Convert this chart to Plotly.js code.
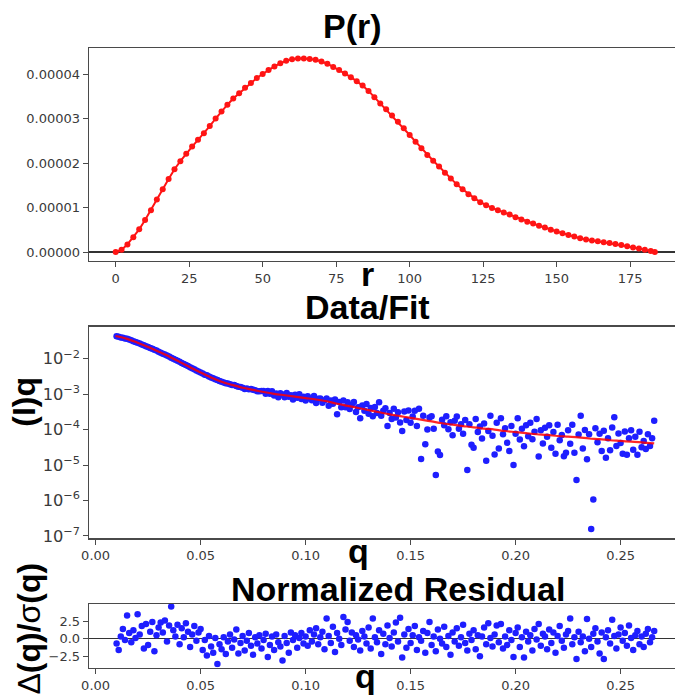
<!DOCTYPE html>
<html>
<head>
<meta charset="utf-8">
<script src="https://cdn.plot.ly/plotly-3.0.1.min.js"></script>
<style>
html,body{margin:0;padding:0;overflow:hidden;background:#fff;}
#chart{width:690px;height:700px;}
</style>
</head>
<body>
<div id="chart"></div>
<script>
// ---------- P(r) ----------
const rValues = [0,2,4,6,8,10,12,14,16,18,20,22,24,26,28,30,32,34,36,38,40,42,44,46,48,50,52,54,56,58,60,62,64,66,68,70,72,74,76,78,80,82,84,86,88,90,92,94,96,98,100,102,104,106,108,110,112,114,116,118,120,122,124,126,128,130,132,134,136,138,140,142,144,146,148,150,152,154,156,158,160,162,164,166,168,170,172,174,176,178,180,182,183.4];
const prValues = [0.00e-5,0.05e-5,0.17e-5,0.33e-5,0.51e-5,0.72e-5,0.94e-5,1.18e-5,1.41e-5,1.64e-5,1.86e-5,2.04e-5,2.21e-5,2.37e-5,2.52e-5,2.67e-5,2.83e-5,3.00e-5,3.16e-5,3.31e-5,3.45e-5,3.57e-5,3.69e-5,3.80e-5,3.91e-5,4.00e-5,4.09e-5,4.17e-5,4.24e-5,4.30e-5,4.33e-5,4.35e-5,4.35e-5,4.34e-5,4.32e-5,4.28e-5,4.23e-5,4.16e-5,4.09e-5,4.01e-5,3.93e-5,3.84e-5,3.74e-5,3.62e-5,3.48e-5,3.34e-5,3.21e-5,3.07e-5,2.93e-5,2.78e-5,2.63e-5,2.48e-5,2.33e-5,2.18e-5,2.05e-5,1.92e-5,1.78e-5,1.65e-5,1.52e-5,1.41e-5,1.30e-5,1.21e-5,1.12e-5,1.05e-5,0.99e-5,0.94e-5,0.89e-5,0.84e-5,0.78e-5,0.73e-5,0.68e-5,0.64e-5,0.59e-5,0.55e-5,0.50e-5,0.46e-5,0.42e-5,0.38e-5,0.35e-5,0.31e-5,0.28e-5,0.26e-5,0.24e-5,0.22e-5,0.20e-5,0.18e-5,0.16e-5,0.13e-5,0.10e-5,0.08e-5,0.05e-5,0.02e-5,0.00e-5];

// ---------- Data / Fit ----------
const qData = [0.010,0.011,0.012,0.013,0.014,0.015,0.016,0.017,0.018,0.019,
0.020,0.021,0.022,0.023,0.024,0.025,0.026,0.027,0.028,0.029,
0.030,0.031,0.032,0.033,0.034,0.035,0.036,0.037,0.038,0.039,
0.040,0.041,0.042,0.043,0.044,0.045,0.046,0.047,0.048,0.049,
0.050,0.051,0.052,0.053,0.054,0.055,0.056,0.057,0.058,0.059,
0.060,0.061,0.062,0.063,0.064,0.065,0.066,0.067,0.068,0.069,
0.070,0.071,0.072,0.073,0.074,0.075,0.076,0.077,0.078,0.079,
0.080,0.081,0.082,0.083,0.084,0.085,0.086,0.087,0.088,0.089,
0.090,0.091,0.092,0.093,0.094,0.095,0.096,0.097,0.098,0.099,
0.100,0.101,0.102,0.103,0.104,0.105,0.106,0.107,0.108,0.109,
0.110,0.111,0.112,0.113,0.114,0.115,0.116,0.117,0.118,0.119,
0.120,0.121,0.122,0.123,0.124,0.125,0.126,0.127,0.128,0.129,
0.130,0.131,0.132,0.133,0.134,0.135,0.136,0.137,0.138,0.139,
0.140,0.141,0.142,0.143,0.144,0.145,0.146,0.147,0.148,0.149,
0.150,0.151,0.152,0.153,0.154,0.155,0.156,0.157,0.158,0.159,
0.160,0.161,0.162,0.163,0.164,0.165,0.166,0.167,0.168,0.169,
0.170,0.171,0.172,0.173,0.174,0.175,0.176,0.177,0.178,0.179,
0.180,0.181,0.182,0.183,0.184,0.185,0.186,0.187,0.188,0.189,
0.190,0.191,0.192,0.193,0.194,0.195,0.196,0.197,0.198,0.199,
0.200,0.201,0.202,0.203,0.204,0.205,0.206,0.207,0.208,0.209,
0.210,0.211,0.212,0.213,0.214,0.215,0.216,0.217,0.218,0.219,
0.220,0.221,0.222,0.223,0.224,0.225,0.226,0.227,0.228,0.229,
0.230,0.231,0.232,0.233,0.234,0.235,0.236,0.237,0.238,0.239,
0.240,0.241,0.242,0.243,0.244,0.245,0.246,0.247,0.248,0.249,
0.250,0.251,0.252,0.253,0.254,0.255,0.256,0.257,0.258,0.259,
0.260,0.261,0.262,0.263,0.264,0.265,0.266];

const iqData = [4.3e-2,4.17e-2,3.98e-2,3.89e-2,3.72e-2,3.63e-2,3.47e-2,3.31e-2,3.09e-2,2.95e-2,
2.82e-2,2.69e-2,2.51e-2,2.40e-2,2.24e-2,2.14e-2,2.00e-2,1.91e-2,1.78e-2,1.70e-2,
1.58e-2,1.48e-2,1.38e-2,1.32e-2,1.23e-2,1.15e-2,1.07e-2,1.00e-2,9.33e-3,8.71e-3,
8.13e-3,7.59e-3,7.08e-3,6.61e-3,6.17e-3,5.75e-3,5.37e-3,5.01e-3,4.68e-3,4.37e-3,
4.07e-3,3.80e-3,3.55e-3,3.39e-3,3.16e-3,2.95e-3,2.82e-3,2.63e-3,2.51e-3,2.34e-3,
2.24e-3,2.14e-3,2.04e-3,2.00e-3,1.91e-3,1.82e-3,1.80e-3,1.70e-3,1.62e-3,1.58e-3,
1.51e-3,1.40e-3,1.45e-3,1.38e-3,1.40e-3,1.32e-3,1.29e-3,1.20e-3,1.20e-3,1.22e-3,
1.23e-3,1.02e-3,1.23e-3,1.02e-3,1.20e-3,9.12e-4,1.05e-3,8.13e-4,1.06e-3,9.77e-4,
8.13e-4,1.07e-3,8.41e-4,9.33e-4,7.08e-4,9.55e-4,7.94e-4,9.89e-4,7.24e-4,8.51e-4,
6.61e-4,8.71e-4,7.59e-4,6.68e-4,8.91e-4,5.62e-4,7.41e-4,7.59e-4,5.75e-4,6.76e-4,
7.59e-4,4.68e-4,6.61e-4,5.37e-4,7.08e-4,2.69e-4,6.03e-4,4.27e-4,6.61e-4,4.27e-4,
5.89e-4,3.80e-4,5.01e-4,6.03e-4,3.16e-4,4.27e-4,2.09e-4,4.79e-4,3.39e-4,5.25e-4,
2.82e-4,4.07e-4,2.40e-4,4.37e-4,2.95e-4,5.89e-4,2.45e-4,3.39e-4,3.98e-4,1.26e-4,
2.95e-4,2.00e-4,3.89e-4,2.19e-4,3.09e-4,1.58e-4,9.12e-5,3.24e-4,1.86e-4,3.47e-4,
1.55e-4,2.34e-4,3.39e-4,1.26e-4,3.89e-4,1.48e-5,2.45e-4,3.89e-5,1.00e-4,2.19e-4,
2.40e-4,1.05e-4,5.25e-6,2.40e-5,1.91e-5,1.91e-4,1.32e-4,2.40e-4,1.02e-4,1.62e-4,
6.92e-5,1.78e-4,2.34e-4,1.05e-4,1.41e-4,7.59e-5,1.86e-4,7.24e-6,1.41e-4,3.72e-5,
3.09e-5,2.00e-4,8.51e-5,1.23e-4,5.62e-5,1.48e-4,1.32e-5,9.12e-5,2.45e-4,6.76e-5,
2.00e-5,1.55e-4,2.95e-5,2.09e-4,7.41e-5,1.10e-4,4.27e-5,2.51e-5,1.26e-4,1.00e-5,
7.59e-5,2.09e-4,5.25e-5,1.05e-4,3.39e-5,1.32e-4,6.46e-5,1.55e-4,5.37e-5,8.71e-5,
2.00e-4,1.74e-5,9.55e-5,4.07e-5,1.12e-4,6.31e-5,1.32e-4,3.09e-5,8.51e-5,2.09e-5,
1.38e-4,5.01e-5,7.08e-5,1.78e-5,2.24e-5,9.55e-5,3.98e-5,1.38e-4,2.24e-5,3.80e-6,
7.24e-5,2.45e-4,2.95e-5,9.77e-5,1.45e-5,7.41e-5,1.58e-7,1.07e-6,1.10e-4,4.37e-5,
7.59e-5,2.51e-5,9.33e-5,1.62e-5,5.75e-5,2.63e-5,1.15e-4,2.24e-4,3.47e-5,7.76e-5,
4.17e-5,2.09e-5,8.91e-5,1.95e-5,5.75e-5,9.55e-5,2.69e-5,6.31e-5,1.95e-5,8.71e-5,
3.16e-5,4.79e-5,2.82e-5,7.41e-5,3.47e-5,5.75e-5,1.78e-4];

const qFit = [0.0095,0.015,0.020,0.025,0.030,0.035,0.040,0.045,0.050,0.055,0.060,0.065,0.070,0.075,0.080,0.085,0.090,0.095,0.100,0.105,0.110,0.115,0.120,0.125,0.130,0.135,0.140,0.145,0.150,0.155,0.160,0.165,0.170,0.175,0.180,0.185,0.190,0.195,0.200,0.205,0.210,0.215,0.220,0.225,0.230,0.235,0.240,0.245,0.250,0.255,0.260,0.266];
const iqFit = [4.37e-2,3.63e-2,2.82e-2,2.14e-2,1.58e-2,1.15e-2,8.13e-3,5.75e-3,4.07e-3,2.95e-3,2.24e-3,1.82e-3,1.51e-3,1.32e-3,1.15e-3,1.02e-3,9.33e-4,8.51e-4,7.76e-4,7.08e-4,6.31e-4,5.37e-4,4.68e-4,4.07e-4,3.55e-4,3.09e-4,2.69e-4,2.40e-4,2.14e-4,1.91e-4,1.70e-4,1.51e-4,1.38e-4,1.26e-4,1.15e-4,1.07e-4,1.00e-4,9.12e-5,8.51e-5,7.94e-5,7.41e-5,7.08e-5,6.61e-5,6.31e-5,6.03e-5,5.62e-5,5.37e-5,5.01e-5,4.79e-5,4.57e-5,4.37e-5,4.07e-5];

// ---------- Normalized residual ----------
const residual = [-0.7,-1.6,0.3,1.4,-0.2,3.3,0.8,-0.5,1.2,0.1,
3.5,0.6,1.8,-1.4,2.1,-0.9,1.0,2.4,-1.8,0.5,
1.6,2.3,0.9,2.6,-0.4,1.9,4.6,1.2,0.3,2.0,
-0.8,1.5,0.2,2.2,1.0,-1.2,0.6,1.8,-0.3,0.9,
1.4,-1.6,-0.2,-2.4,0.4,-1.1,-2.0,0.1,-3.6,-0.8,
-1.5,0.2,-2.2,-0.4,0.6,-1.3,-0.1,1.3,-2.1,-0.6,
0.4,-1.7,-0.3,0.8,-1.0,-2.3,0.2,-0.7,0.5,-1.4,
-0.2,0.7,-2.6,-0.9,0.3,-1.6,0.6,-0.5,-1.1,-3.1,
0.4,-0.6,-2.0,0.9,-0.2,0.5,-1.3,0.1,0.8,-0.7,
0.3,-1.0,1.2,-0.4,0.6,1.5,-0.8,0.2,1.0,-1.5,
2.9,0.4,-0.6,1.7,-1.9,0.8,0.0,-0.9,3.1,1.3,
2.4,-0.3,0.9,-1.2,0.5,-0.1,-1.7,1.1,0.3,-0.7,
1.6,-1.4,2.9,0.2,-0.5,1.2,-2.2,0.7,-0.8,1.9,
0.1,-1.1,0.9,2.3,-0.4,3.0,-2.7,0.6,-1.3,1.4,
-0.6,0.5,1.8,-1.6,0.2,-0.3,1.1,-2.0,0.8,2.4,
-0.9,0.3,-1.8,1.3,0.0,-0.7,1.7,-1.2,0.4,-2.3,
0.9,-0.4,1.5,-1.0,0.2,2.0,-0.6,-1.7,0.7,-0.2,
1.2,-1.5,0.5,-2.5,0.3,1.6,-0.8,2.2,0.1,-1.1,
0.6,1.9,-0.5,2.1,-1.4,0.3,-0.9,1.2,-0.2,-2.6,
0.8,1.6,-1.2,0.2,-2.7,1.0,-0.4,0.5,-1.7,1.4,
-0.1,2.1,-1.0,0.7,0.3,-1.5,1.3,-0.6,0.9,-2.0,
0.4,1.8,-0.3,-1.3,0.6,1.1,2.9,-0.8,0.2,-2.9,
1.0,-0.5,0.3,-1.8,2.8,0.0,-1.2,0.7,1.5,-0.4,
-2.1,0.9,-2.9,0.2,1.2,-0.7,2.7,0.4,-1.4,0.6,
1.6,-0.3,0.8,-1.0,1.9,0.1,-1.6,0.5,1.1,-0.8,
0.3,-1.2,0.7,1.4,-0.5,0.2,1.1];

// ---------- layout helpers (pixel -> paper) ----------
const W = 690, H = 700, MR = 9;
const PW = W - MR;
const px = v => v / PW;
const py = v => 1 - v / H;

const tickFont = {family: 'DejaVu Sans', size: 13, color: '#3a3a3a'};
const boldFont = s => ({family: 'Liberation Sans, Arial, sans-serif', size: s, color: '#000'});
const frame = {showline: true, mirror: true, linecolor: '#4a4a4a', linewidth: 1.3,
  ticks: 'outside', ticklen: 5, tickwidth: 1, tickcolor: '#4a4a4a', showgrid: false,
  tickfont: tickFont, automargin: false};

// minor tick positions for the log axis (2..9 x 10^k)
const minorTickVals = [];
for (let k = -8; k <= -1; k++) {
  for (let m = 2; m <= 9; m++) minorTickVals.push(m * Math.pow(10, k));
}

const traces = [
  {x: rValues, y: prValues, xaxis: 'x', yaxis: 'y', type: 'scatter', mode: 'lines+markers',
   line: {color: 'rgb(255,20,20)', width: 2}, marker: {color: 'rgb(255,20,20)', size: 6}},
  {x: qData, y: iqData, xaxis: 'x2', yaxis: 'y2', type: 'scatter', mode: 'markers',
   marker: {color: 'rgb(30,30,255)', size: 6.5}},
  {x: qFit, y: iqFit, xaxis: 'x2', yaxis: 'y2', type: 'scatter', mode: 'lines',
   line: {color: 'rgba(255,0,0,0.85)', width: 2.2, shape: 'spline'}},
  {x: qData, y: residual, xaxis: 'x3', yaxis: 'y3', type: 'scatter', mode: 'markers',
   marker: {color: 'rgb(30,30,255)', size: 6.5}}
];

const xDom = [px(89), 1];
const y2Dom = [py(538.3), py(326.7)];
const y2Range = [-7.065, -1.098];
const layout = {
  width: W, height: H,
  margin: {l: 0, r: MR, t: 0, b: 0, pad: 0},
  paper_bgcolor: '#fff', plot_bgcolor: '#fff',
  showlegend: false,
  xaxis: Object.assign({}, frame, {domain: xDom, anchor: 'y', range: [-9.08, 192.3],
    tick0: 0, dtick: 25, zeroline: false}),
  yaxis: Object.assign({}, frame, {domain: [py(260.7), py(48.3)], anchor: 'x',
    range: [-1.955e-6, 4.578e-5], tick0: 0, dtick: 1e-5, tickformat: '.5f',
    zeroline: true, zerolinecolor: '#333', zerolinewidth: 1.5}),
  xaxis2: Object.assign({}, frame, {domain: xDom, anchor: 'y2', range: [-0.00314, 0.27876],
    tick0: 0, dtick: 0.05, tickformat: '.2f', zeroline: false}),
  yaxis2: Object.assign({}, frame, {domain: y2Dom, anchor: 'x2',
    type: 'log', range: y2Range, dtick: 1, exponentformat: 'power',
    showexponent: 'all', zeroline: false}),
  yaxis4: {domain: y2Dom, anchor: 'x2', overlaying: 'y2', side: 'left', type: 'log',
    range: y2Range, tickmode: 'array', tickvals: minorTickVals, ticks: 'outside',
    ticklen: 3, tickwidth: 1, tickcolor: '#4a4a4a', showticklabels: false,
    showgrid: false, zeroline: false, showline: false},
  xaxis3: Object.assign({}, frame, {domain: xDom, anchor: 'y3', range: [-0.00314, 0.27876],
    tick0: 0, dtick: 0.05, tickformat: '.2f', zeroline: false}),
  yaxis3: Object.assign({}, frame, {domain: [py(667.6), py(604)], anchor: 'x3',
    range: [-4.13, 4.957], tick0: 0, dtick: 2.5, tickformat: '.1f',
    zeroline: true, zerolinecolor: '#333', zerolinewidth: 1.5}),
  annotations: [
    {text: '<b>P(r)</b>', x: px(352), y: py(26.5), font: boldFont(34)},
    {text: '<b>r</b>', x: px(367), y: py(274), font: boldFont(34)},
    {text: '<b>Data/Fit</b>', x: px(367), y: py(307), font: boldFont(34)},
    {text: '<b>(I)q</b>', x: px(24), y: py(401.7), font: boldFont(32), textangle: -90},
    {text: '<b>q</b>', x: px(358), y: py(550.6), font: boldFont(34)},
    {text: '<b>Normalized Residual</b>', x: px(398), y: py(589.2), font: boldFont(34)},
    {text: 'Δ<b>(q)/</b>σ<b>(q)</b>', x: px(28), y: py(628.5), font: boldFont(32), textangle: -90},
    {text: '<b>q</b>', x: px(366), y: py(675.6), font: boldFont(34)}
  ].map(a => Object.assign({xref: 'paper', yref: 'paper', showarrow: false,
    xanchor: 'center', yanchor: 'middle'}, a))
};

Plotly.newPlot('chart', traces, layout, {displayModeBar: false, staticPlot: true});
</script>
</body>
</html>
